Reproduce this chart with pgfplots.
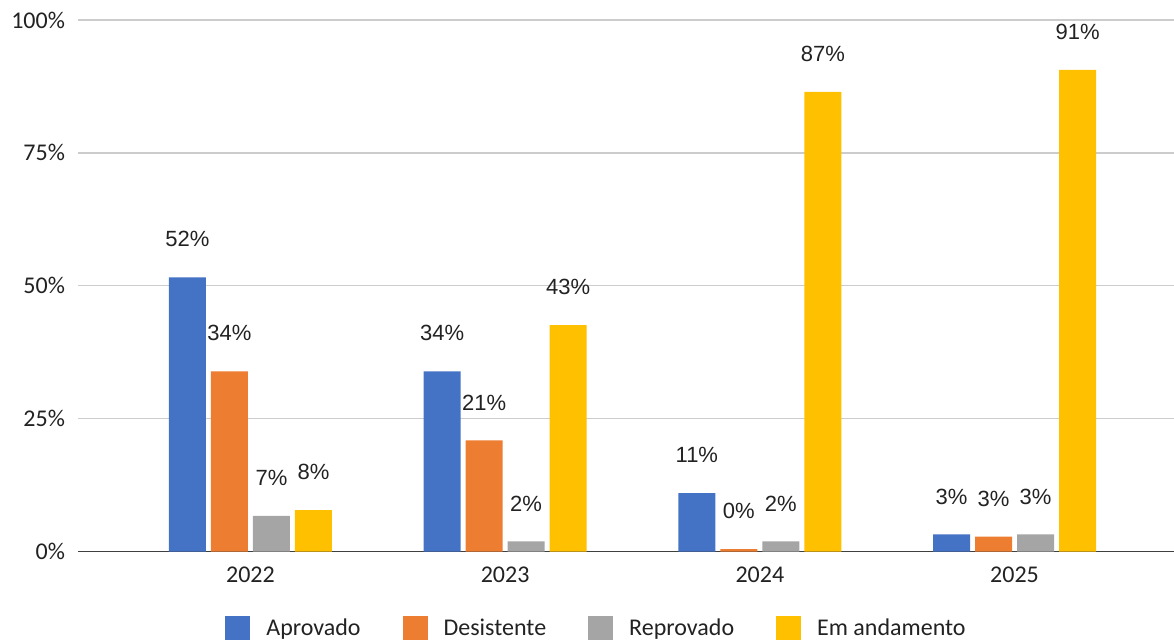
\documentclass[border=0pt]{standalone}
\usepackage{pgfplots}
\usepackage{pgfplotstable}
\pgfplotsset{compat=1.18}
\usepackage{fontspec}
\setmainfont{Carlito}
\newfontfamily\labelfont{Liberation Sans}
\definecolor{cblue}{HTML}{4472C4}
\definecolor{corange}{HTML}{ED7D31}
\definecolor{cgray}{HTML}{A5A5A5}
\definecolor{cyellow}{HTML}{FFC000}
\definecolor{textcol}{HTML}{222222}
\definecolor{gridcol}{HTML}{CCCCCC}
\definecolor{axiscol}{HTML}{404040}

\pgfplotstableread{
x aprov desist reprov andam
0 51.6 33.9 6.7 7.8
1 33.9 20.9 1.9 42.6
2 11.0 0.45 1.9 86.5
3 3.2 2.8 3.2 90.6
}\datatable

\begin{document}
\begin{tikzpicture}
\useasboundingbox (0,0) rectangle (587pt,319.5pt);
\begin{axis}[
  at={(39pt,43.75pt)}, anchor=south west,
  scale only axis,
  width=548pt, height=265.75pt,
  xmin=-0.677, xmax=3.626,
  ymin=0, ymax=100,
  ytick={0,25,50,75,100},
  xtick={0,1,2,3},
  xticklabels={2022,2023,2024,2025},
  yticklabel={\pgfmathprintnumber{\tick}\%},
  /pgf/number format/assume math mode=true,
  ymajorgrids,
  grid style={gridcol, line width=0.7pt},
  axis x line*=bottom,
  axis y line*=left,
  y axis line style={draw=none},
  x axis line style={axiscol, line width=0.8pt},
  major tick length=0pt,
  tick label style={font=\fontsize{12}{14}\selectfont, text=textcol},
  yticklabel style={xshift=-3pt},
  xticklabel style={yshift=-4pt},
  ybar=2.5pt,
  bar width=18.5pt,
  clip=false,
  nodes near coords={\labelfont\pgfmathprintnumber[fixed,precision=0]{\pgfplotspointmeta}\%},
  every node near coord/.append style={anchor=center, yshift=19pt, font=\fontsize{11}{13}\selectfont, text=textcol},
  legend columns=4,
  legend style={draw=none, fill=none, at={(0.474,-0.145)}, anchor=center,
    font=\fontsize{12}{14}\selectfont, text=textcol,
    /tikz/every odd column/.append style={column sep=6pt},
    /tikz/every even column/.append style={column sep=19pt}},
  legend image code/.code={\fill[#1] (0pt,-6.5pt) rectangle (12.5pt,6.5pt);},
]
\addplot[fill=cblue, draw=none] table[x=x, y=aprov] {\datatable};
\addplot[fill=corange, draw=none] table[x=x, y=desist] {\datatable};
\addplot[fill=cgray, draw=none] table[x=x, y=reprov] {\datatable};
\addplot[fill=cyellow, draw=none] table[x=x, y=andam] {\datatable};
\legend{Aprovado, Desistente, Reprovado, Em andamento}
\end{axis}
\end{tikzpicture}
\end{document}
